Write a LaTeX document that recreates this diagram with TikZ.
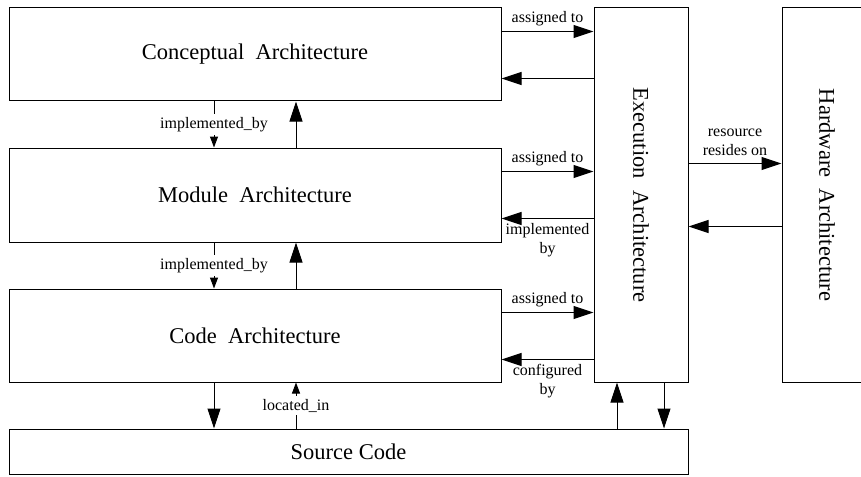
\documentclass[tikz,border=0pt]{standalone}
\usepackage{fontspec}
\setmainfont{Liberation Serif}
\usepackage{tikz}
\usetikzlibrary{arrows.meta}
\newcommand{\GrandTexte}{\fontsize{22.5}{26}\selectfont}
\newcommand{\PetitTexte}{\fontsize{16}{19.5}\selectfont}
\tikzset{
Boite/.style={
 draw=black, 
 rectangle, 
 inner sep=0pt, 
 font=\GrandTexte
 },
GFleche/.style={
 draw=black, 
 -{Triangle[length=20pt,width=13pt]}
 },
PFleche/.style={
 draw=black, 
 -{Triangle[length=11pt,width=8pt]}
 },
Etiquette/.style={
 font=\PetitTexte, 
 inner sep=2pt, 
 align=center
 },
Coupure/.style={
 Etiquette, 
 fill=white, 
 inner sep=3pt
 }
}

\begin{document}
\begin{tikzpicture}[line width=1pt,x=1pt,y=-1pt]
\useasboundingbox (0,0) rectangle (861,476);
% les boites
\node[Boite,minimum width=492pt,minimum height=93pt] (concept) at (255,54.5) {Conceptual\ \ Architecture};
\node[Boite,minimum width=492pt,minimum height=94pt] (module) at (255,195) {Module\ \ Architecture};
\node[Boite,minimum width=492pt,minimum height=93pt] (code) at (255,335.5) {Code\ \ Architecture};
\node[Boite,minimum width=679pt,minimum height=45.5pt] (source) at (348.5,451.75) {Source Code};
\node[Boite,minimum width=94pt,minimum height=374pt,
 label={[rotate=-90,font=\GrandTexte]center:Execution~~Architecture}] (exec) at (641,195) {};
\node[Boite,minimum width=90pt,minimum height=374pt,
 label={[rotate=-90,font=\GrandTexte]center:Hardware~~Architecture}] (hard) at (827,195) {};
% couches vers execution
\foreach \couche/\texte in {concept/{},module/{implemented\\by},code/{configured\\by}} {
 \coordinate (\couche-a) at ([yshift=-24pt]\couche.north east);
 \coordinate (\couche-r) at ([yshift=-71pt]\couche.north east);
 \draw[GFleche] (\couche-a) -- (\couche-a -| exec.west) node[midway,above=3pt,Etiquette] {assigned to};
 \draw[GFleche] (\couche-r -| exec.west) -- (\couche-r) node[midway,below=2pt,Etiquette] {\texte};
}
% execution et materiel
\coordinate (exec-a) at ([yshift=-156pt]exec.north east);
\coordinate (exec-r) at ([yshift=-219pt]exec.north east);
\draw[GFleche] (exec-a) -- (exec-a -| hard.west) node[midway,above=5pt,Etiquette] {resource\\resides on};
\draw[GFleche] (exec-r -| hard.west) -- (exec-r);
% entre les couches
\foreach \haut/\bas in {concept/module,module/code} {
 \coordinate (\haut-g) at ([xshift=-41pt]\haut.south);
 \coordinate (\haut-d) at ([xshift=41pt]\haut.south);
 \draw[PFleche] (\haut-g) -- (\haut-g |- \bas.north) node[midway,Coupure] {implemented\_by};
 \draw[GFleche] (\haut-d |- \bas.north) -- (\haut-d);
}
% vers le code source
\coordinate (code-g) at ([xshift=-41pt]code.south);
\coordinate (code-d) at ([xshift=41pt]code.south);
\draw[GFleche] (code-g) -- (code-g |- source.north);
\draw[PFleche] (code-d |- source.north) -- (code-d) node[midway,Coupure] {located\_in};
\coordinate (exec-g) at ([xshift=-24pt]exec.south);
\coordinate (exec-d) at ([xshift=23pt]exec.south);
\draw[GFleche] (exec-g |- source.north) -- (exec-g);
\draw[GFleche] (exec-d) -- (exec-d |- source.north);
\end{tikzpicture}
\end{document}
